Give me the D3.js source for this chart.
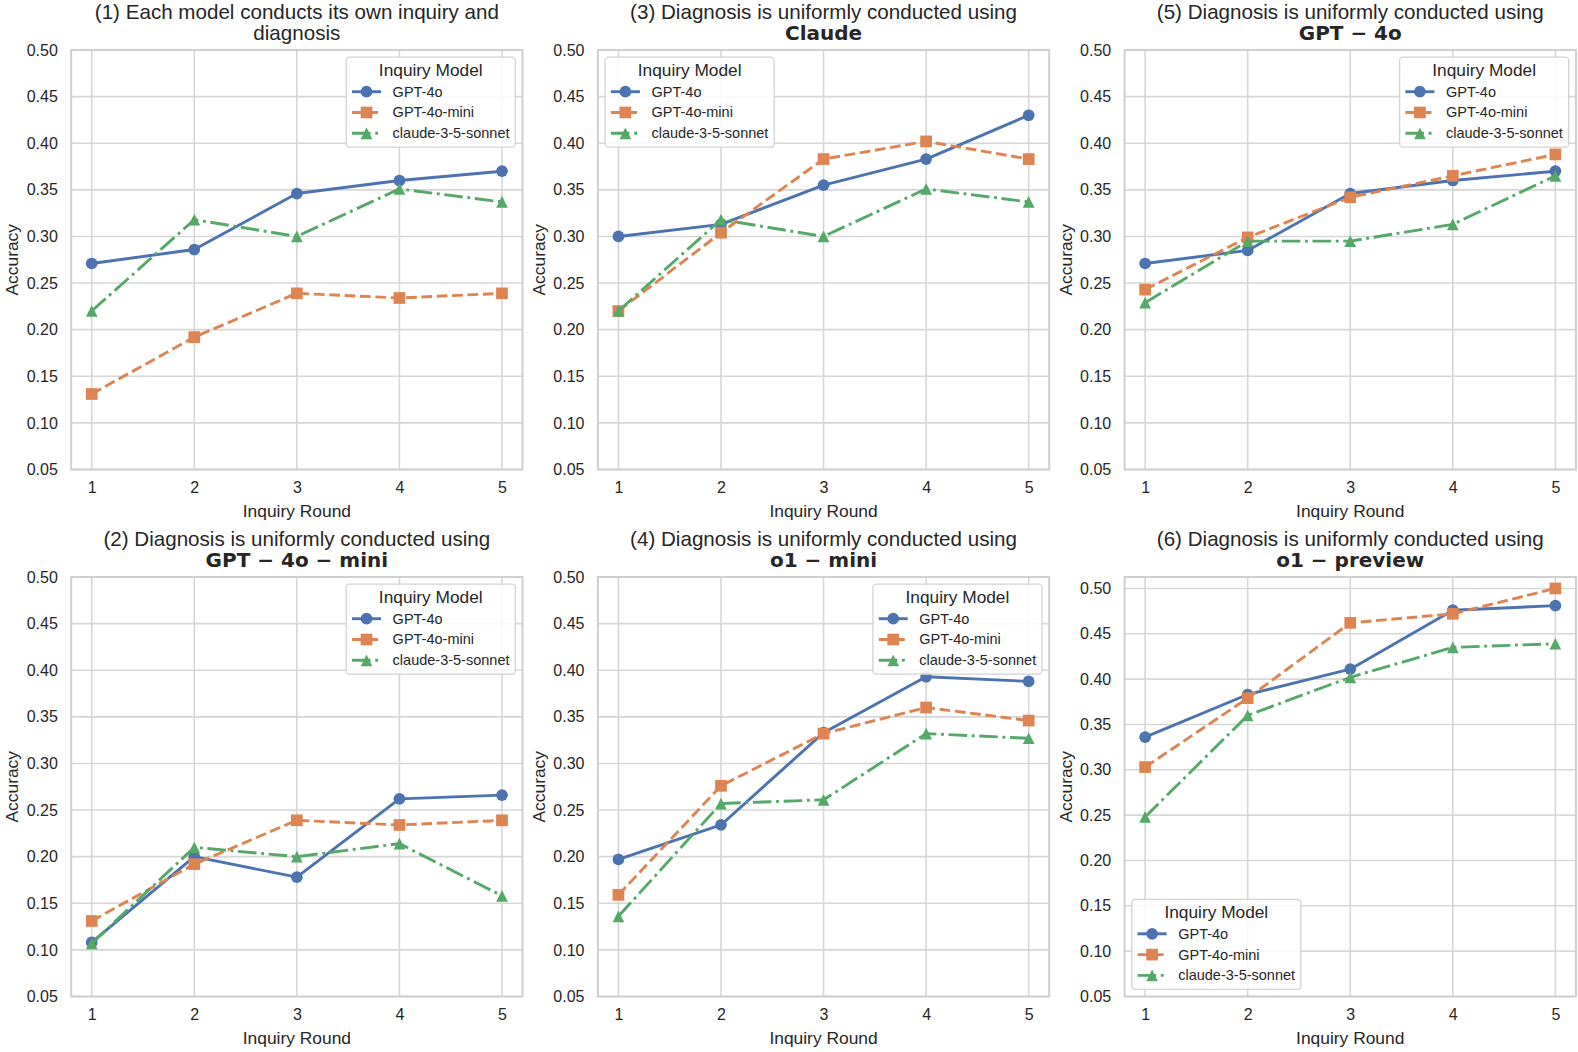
<!DOCTYPE html>
<html><head><meta charset="utf-8">
<script src="https://cdn.jsdelivr.net/npm/d3@7"></script>
<style>
body{margin:0;background:#fff}
svg{display:block}
text{font-family:'Liberation Sans',Arial,Helvetica,sans-serif;fill:#262626}
</style>
</head><body>
<svg id="chart" width="1578" height="1052"></svg>
<script>
// ---------------- DATA ----------------
const rounds = [1, 2, 3, 4, 5];
const seriesNames = ["GPT-4o", "GPT-4o-mini", "claude-3-5-sonnet"];
const yTickValues = [0.05, 0.10, 0.15, 0.20, 0.25, 0.30, 0.35, 0.40, 0.45, 0.50];
const xTickValues = [1, 2, 3, 4, 5];
const legendTitle = "Inquiry Model";
const xLabel = "Inquiry Round";
const yLabel = "Accuracy";

const titleLine1 = [
  "(1) Each model conducts its own inquiry and",
  "(2) Diagnosis is uniformly conducted using",
  "(3) Diagnosis is uniformly conducted using",
  "(4) Diagnosis is uniformly conducted using",
  "(5) Diagnosis is uniformly conducted using",
  "(6) Diagnosis is uniformly conducted using"
];
const titleLine2 = ["diagnosis", "GPT − 4o − mini", "Claude", "o1 − mini", "GPT − 4o", "o1 − preview"];
const titleLine2Bold = [false, true, true, true, true, true];

// (1) own inquiry and diagnosis
const p1GPT4o  = [0.271, 0.286, 0.346, 0.360, 0.370];
const p1Mini   = [0.131, 0.192, 0.239, 0.234, 0.239];
const p1Claude = [0.220, 0.318, 0.300, 0.351, 0.337];
// (2) diagnosis by GPT-4o-mini
const p2GPT4o  = [0.108, 0.200, 0.178, 0.262, 0.266];
const p2Mini   = [0.131, 0.192, 0.239, 0.234, 0.239];
const p2Claude = [0.107, 0.210, 0.200, 0.214, 0.158];
// (3) diagnosis by Claude
const p3GPT4o  = [0.300, 0.313, 0.355, 0.383, 0.430];
const p3Mini   = [0.220, 0.304, 0.383, 0.402, 0.383];
const p3Claude = [0.220, 0.318, 0.300, 0.351, 0.337];
// (4) diagnosis by o1-mini
const p4GPT4o  = [0.197, 0.234, 0.333, 0.393, 0.388];
const p4Mini   = [0.159, 0.276, 0.332, 0.360, 0.346];
const p4Claude = [0.136, 0.257, 0.261, 0.332, 0.327];
// (5) diagnosis by GPT-4o
const p5GPT4o  = [0.271, 0.285, 0.346, 0.360, 0.370];
const p5Mini   = [0.243, 0.299, 0.342, 0.365, 0.388];
const p5Claude = [0.229, 0.295, 0.295, 0.313, 0.365];
// (6) diagnosis by o1-preview
const p6GPT4o  = [0.336, 0.383, 0.411, 0.476, 0.481];
const p6Mini   = [0.303, 0.379, 0.462, 0.472, 0.500];
const p6Claude = [0.248, 0.360, 0.402, 0.435, 0.439];

// ---------------- STYLE / LAYOUT ----------------
const colors = ["#4C72B0", "#DD8452", "#55A868"];
const LW = 2.9, MS = 11.7;
const dashes = ["none", `${3.7*LW},${1.6*LW}`, `${6.4*LW},${1.6*LW},${1.0*LW},${1.6*LW}`];
const markerTypes = ["circle", "square", "triangle"];

const colLeft = [71.2, 597.9, 1124.6];
const rowTop = [50, 577];
const W = 451.3, H = 419.5;

const panels = [
  {idx: 0, col: 0, row: 0, data: [p1GPT4o, p1Mini, p1Claude], legend: "ur"},
  {idx: 1, col: 0, row: 1, data: [p2GPT4o, p2Mini, p2Claude], legend: "ur"},
  {idx: 2, col: 1, row: 0, data: [p3GPT4o, p3Mini, p3Claude], legend: "ul"},
  {idx: 3, col: 1, row: 1, data: [p4GPT4o, p4Mini, p4Claude], legend: "ur"},
  {idx: 4, col: 2, row: 0, data: [p5GPT4o, p5Mini, p5Claude], legend: "ur"},
  {idx: 5, col: 2, row: 1, data: [p6GPT4o, p6Mini, p6Claude], legend: "ll"}
];

const svg = d3.select("#chart");

function markerPath(type) {
  const h = MS / 2;
  if (type === "circle") return d3.symbol(d3.symbolCircle, Math.PI * h * h)();
  if (type === "square") return `M${-h},${-h}H${h}V${h}H${-h}Z`;
  return `M0,${-h}L${h},${h}L${-h},${h}Z`;
}

panels.forEach(p => {
  const x0 = colLeft[p.col], y0 = rowTop[p.row];
  const all = p.data.flat();
  const dMax = d3.max(all), dMin = d3.min(all);
  const yTop = Math.max(0.5, dMax + 0.05 * (dMax - dMin));
  const x = d3.scaleLinear().domain([0.8, 5.2]).range([x0, x0 + W]);
  const y = d3.scaleLinear().domain([0.05, yTop]).range([y0 + H, y0]);
  const g = svg.append("g");

  // grid
  g.append("g").selectAll("line.h").data(yTickValues).join("line")
    .attr("x1", x0).attr("x2", x0 + W)
    .attr("y1", d => y(d)).attr("y2", d => y(d))
    .attr("stroke", "#d6d6d6").attr("stroke-width", 1.6);
  g.append("g").selectAll("line.v").data(xTickValues).join("line")
    .attr("y1", y0).attr("y2", y0 + H)
    .attr("x1", d => x(d)).attr("x2", d => x(d))
    .attr("stroke", "#d6d6d6").attr("stroke-width", 1.6);
  // frame
  g.append("rect").attr("x", x0).attr("y", y0).attr("width", W).attr("height", H)
    .attr("fill", "none").attr("stroke", "#cfcfcf").attr("stroke-width", 2);

  // axes via d3
  const yAxis = d3.axisLeft(y).tickValues(yTickValues).tickFormat(d3.format(".2f")).tickSize(0).tickPadding(13.4);
  const ya = g.append("g").attr("transform", `translate(${x0},0)`).call(yAxis);
  ya.select(".domain").remove();
  ya.selectAll("text").style("font-size", "16px").attr("fill", "#262626");
  const xAxis = d3.axisBottom(x).tickValues(xTickValues).tickFormat(d3.format("d")).tickSize(0).tickPadding(12);
  const xa = g.append("g").attr("transform", `translate(0,${y0 + H})`).call(xAxis);
  xa.select(".domain").remove();
  xa.selectAll("text").style("font-size", "16px").attr("fill", "#262626");

  // axis labels
  g.append("text").attr("x", x0 + W / 2).attr("y", y0 + H + 47)
    .attr("text-anchor", "middle").style("font-size", "17.4px").text(xLabel);
  g.append("text").attr("transform", `translate(${x0 - 53},${y0 + H / 2}) rotate(-90)`)
    .attr("text-anchor", "middle").style("font-size", "17.4px").text(yLabel);

  // title
  g.append("text").attr("x", x0 + W / 2).attr("y", y0 - 31.5)
    .attr("text-anchor", "middle").style("font-size", "20.6px").text(titleLine1[p.idx]);
  const t2 = g.append("text").attr("x", x0 + W / 2).attr("y", y0 - 9.8)
    .attr("text-anchor", "middle").text(titleLine2[p.idx]);
  if (titleLine2Bold[p.idx]) {
    t2.style("font-family", "'DejaVu Sans',sans-serif").style("font-weight", "bold").style("font-size", "20px");
  } else {
    t2.style("font-size", "20.6px");
  }

  // series
  const line = d3.line().x((d, i) => x(rounds[i])).y(d => y(d));
  p.data.forEach((vals, si) => {
    g.append("path").datum(vals).attr("d", line)
      .attr("fill", "none").attr("stroke", colors[si]).attr("stroke-width", LW)
      .attr("stroke-dasharray", dashes[si]).attr("stroke-linejoin", "round");
    g.append("g").selectAll("path").data(vals).join("path")
      .attr("d", markerPath(markerTypes[si]))
      .attr("transform", (d, i) => `translate(${x(rounds[i])},${y(d)})`)
      .attr("fill", colors[si]);
  });

  // legend
  const fs = 14.5, pad = 5.8, handleLen = 2 * fs, handleTextPad = 0.8 * fs;
  const lg = g.append("g");
  const box = lg.append("rect").attr("rx", 3.5).attr("ry", 3.5)
    .attr("fill", "#ffffff").attr("fill-opacity", 0.85)
    .attr("stroke", "#d2d2d2").attr("stroke-width", 1.3);
  const labels = seriesNames.map((name, si) => {
    return lg.append("text").attr("x", pad + handleLen + handleTextPad).attr("y", 34.5 + si * 20.8)
      .attr("dominant-baseline", "central").style("font-size", fs + "px").text(name);
  });
  const maxW = d3.max(labels, t => t.node().getComputedTextLength());
  const bw = 2 * pad + handleLen + handleTextPad + maxW, bh = 90;
  box.attr("width", bw).attr("height", bh);
  lg.append("text").attr("x", bw / 2).attr("y", 13).attr("dominant-baseline", "central")
    .attr("text-anchor", "middle").style("font-size", "17.3px").text(legendTitle);
  seriesNames.forEach((name, si) => {
    const cy = 34.5 + si * 20.8;
    lg.append("line").attr("x1", pad).attr("x2", pad + handleLen).attr("y1", cy).attr("y2", cy)
      .attr("stroke", colors[si]).attr("stroke-width", LW).attr("stroke-dasharray", dashes[si]);
    lg.append("path").attr("d", markerPath(markerTypes[si]))
      .attr("transform", `translate(${pad + handleLen / 2},${cy})`).attr("fill", colors[si]);
  });
  const off = 7.2;
  let lx, ly;
  if (p.legend === "ur") { lx = x0 + W - off - bw; ly = y0 + off; }
  else if (p.legend === "ul") { lx = x0 + off; ly = y0 + off; }
  else { lx = x0 + off; ly = y0 + H - off - bh; }
  lg.attr("transform", `translate(${lx},${ly})`);
});
</script>
</body></html>
